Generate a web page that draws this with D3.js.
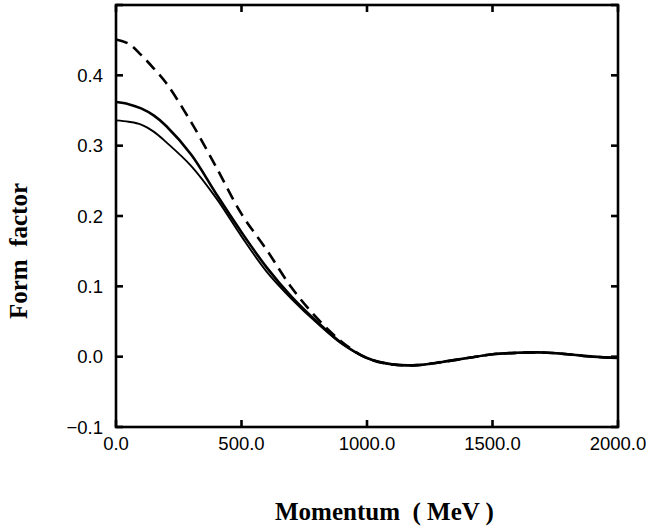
<!DOCTYPE html>
<html>
<head>
<meta charset="utf-8">
<script src="https://cdn.jsdelivr.net/npm/d3@7"></script>
<style>
    body { margin: 0; background: #fff; }
    .tick-label { font-family: 'Liberation Sans', Arial, sans-serif; font-size: 18.5px; fill: #000; }
    .axis-title { font-family: 'Liberation Serif', 'Times New Roman', serif; font-weight: bold; font-size: 25px; fill: #000; }
</style>
</head>
<body>
<svg id="chart"></svg>
<script>
// values
const momentum = [0, 50, 100, 150, 200, 300, 400, 500, 600, 700, 800, 900, 1000,
                  1100, 1200, 1300, 1400, 1500, 1600, 1700, 1800, 1900, 2000];

const dashedValues = [0.451, 0.445, 0.429, 0.410, 0.389, 0.333, 0.269, 0.203, 0.152, 0.098, 0.055, 0.021, -0.002,
                      -0.011, -0.012, -0.0075, -0.002, 0.0035, 0.0055, 0.006, 0.0035, 0.000, -0.002];
const thickValues  = [0.362, 0.359, 0.353, 0.343, 0.328, 0.287, 0.231, 0.177, 0.127, 0.085, 0.050, 0.019, -0.002,
                      -0.011, -0.012, -0.0075, -0.002, 0.0035, 0.0055, 0.006, 0.0035, 0.000, -0.002];
const thinValues   = [0.336, 0.334, 0.330, 0.320, 0.305, 0.271, 0.225, 0.171, 0.121, 0.082, 0.048, 0.018, -0.002,
                      -0.011, -0.012, -0.0075, -0.002, 0.0035, 0.0055, 0.006, 0.0035, 0.000, -0.002];

const xTicks = [0, 500, 1000, 1500, 2000];
const yTicks = [-0.1, 0.0, 0.1, 0.2, 0.3, 0.4, 0.5];
const yTickLabels = ['\u22120.1', '0.0', '0.1', '0.2', '0.3', '0.4', ''];

var width = 649,
    height = 529,
    margin = {top: 5, right: 31, bottom: 102, left: 116},
    plotW = width - margin.left - margin.right,
    plotH = height - margin.top - margin.bottom,
    tickLen = 7,
    frameWidth = 2.6;

var x = d3.scaleLinear().domain([0, 2000]).range([0, plotW]);
var y = d3.scaleLinear().domain([-0.1, 0.5]).range([plotH, 0]);

var svg = d3.select('#chart')
            .attr('width', width)
            .attr('height', height);

var g = svg.append('g')
            .attr('transform', 'translate(' + margin.left + ',' + margin.top + ')');

g.append('clipPath')
    .attr('id', 'plot-clip')
    .append('rect')
    .attr('width', plotW)
    .attr('height', plotH);

// curves
var series = [
    {values: thinValues, width: 1.9, dash: null},
    {values: thickValues, width: 2.6, dash: null},
    {values: dashedValues, width: 2.6, dash: '12,7'}
];

var line = d3.line()
                .x(d => x(d[0]))
                .y(d => y(d[1]))
                .curve(d3.curveCatmullRom.alpha(0.5));

series.forEach(function (s) {
    g.append('path')
        .attr('clip-path', 'url(#plot-clip)')
        .attr('fill', 'none')
        .attr('stroke', '#000')
        .attr('stroke-width', s.width)
        .attr('stroke-dasharray', s.dash)
        .attr('stroke-linejoin', 'round')
        .attr('d', line(momentum.map((m, i) => [m, s.values[i]])));
});

// ticks, mirrored on all four sides, pointing inward
var ticks = g.append('g')
                .attr('stroke', '#000')
                .attr('stroke-width', frameWidth);

xTicks.forEach(function (t) {
    ticks.append('line').attr('x1', x(t)).attr('x2', x(t)).attr('y1', plotH).attr('y2', plotH - tickLen);
    ticks.append('line').attr('x1', x(t)).attr('x2', x(t)).attr('y1', 0).attr('y2', tickLen);
});
yTicks.forEach(function (t) {
    ticks.append('line').attr('x1', 0).attr('x2', tickLen).attr('y1', y(t)).attr('y2', y(t));
    ticks.append('line').attr('x1', plotW).attr('x2', plotW - tickLen).attr('y1', y(t)).attr('y2', y(t));
});

// frame
g.append('rect')
    .attr('width', plotW)
    .attr('height', plotH)
    .attr('fill', 'none')
    .attr('stroke', '#000')
    .attr('stroke-width', frameWidth);

// tick labels
xTicks.forEach(function (t) {
    g.append('text')
        .attr('class', 'tick-label')
        .attr('x', x(t))
        .attr('y', plotH + 23)
        .attr('text-anchor', 'middle')
        .text(t.toFixed(1));
});
yTicks.forEach(function (t, i) {
    g.append('text')
        .attr('class', 'tick-label')
        .attr('x', -13)
        .attr('y', y(t))
        .attr('dy', '0.36em')
        .attr('text-anchor', 'end')
        .text(yTickLabels[i]);
});

// axis titles
svg.append('text')
    .attr('class', 'axis-title')
    .attr('x', 275)
    .attr('y', 520)
    .attr('text-anchor', 'start')
    .style('white-space', 'pre')
    .text('Momentum  ( MeV )');

svg.append('text')
    .attr('class', 'axis-title')
    .attr('transform', 'translate(27,251) rotate(-90)')
    .attr('text-anchor', 'middle')
    .style('white-space', 'pre')
    .text('Form  factor');
</script>
</body>
</html>
